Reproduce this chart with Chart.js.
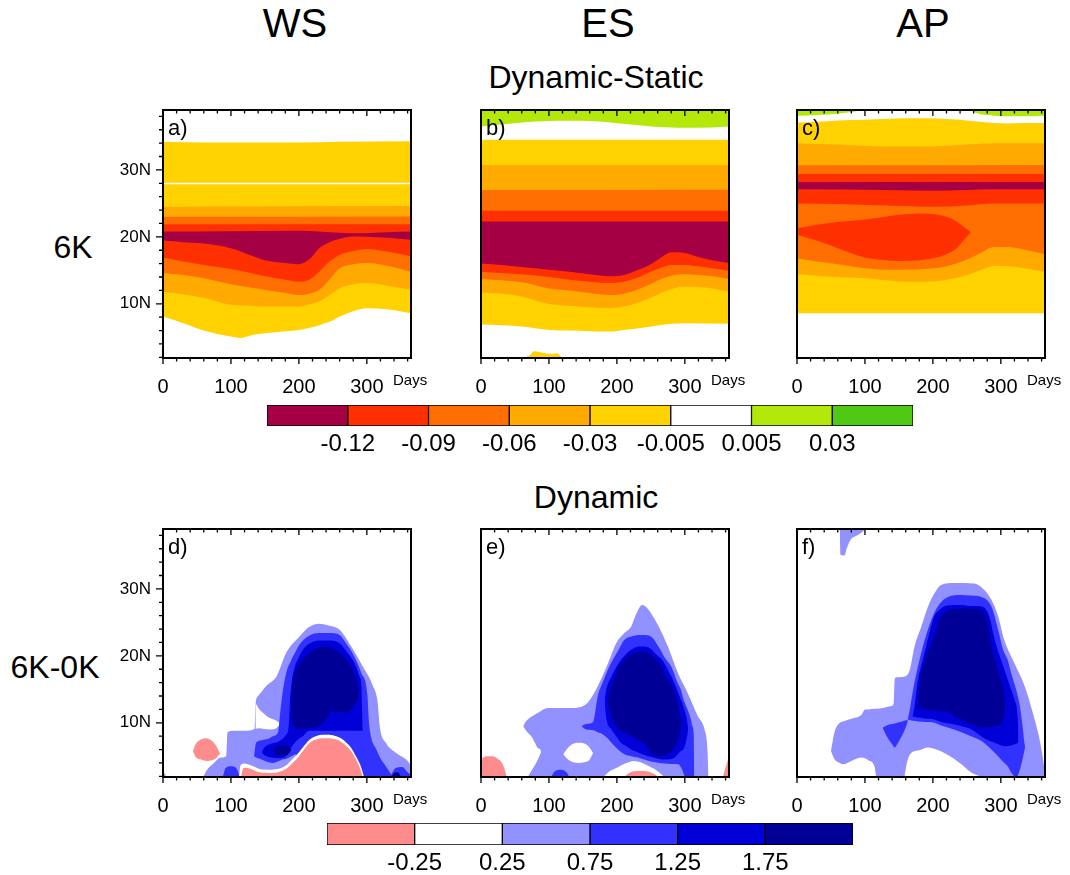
<!DOCTYPE html>
<html>
<head>
<meta charset="utf-8">
<script src="https://cdn.jsdelivr.net/npm/chart.js@4.4.0/dist/chart.umd.min.js"></script>
<style>
  body { margin: 0; width: 1070px; height: 875px; overflow: hidden; background: #fff; font-family: "Liberation Sans", Arial, sans-serif; }
  .t { position: absolute; line-height: 1; white-space: nowrap; transform: translateX(-50%); color: #000; }
  canvas { position: absolute; }
</style>
</head>
<body>

<div class="t" style="left:295px;top:3px;font-size:40px">WS</div>
<div class="t" style="left:608px;top:3px;font-size:40px">ES</div>
<div class="t" style="left:923px;top:3px;font-size:40px">AP</div>
<div class="t" style="left:596px;top:61px;font-size:32px">Dynamic-Static</div>
<div class="t" style="left:73px;top:231px;font-size:32px">6K</div>
<div class="t" style="left:596px;top:481px;font-size:32px">Dynamic</div>
<div class="t" style="left:55px;top:651px;font-size:32px">6K-0K</div>

<canvas id="pa" width="348" height="305"></canvas>
<canvas id="pb" width="348" height="305"></canvas>
<canvas id="pc" width="348" height="305"></canvas>
<canvas id="pd" width="348" height="305"></canvas>
<canvas id="pe" width="348" height="305"></canvas>
<canvas id="pf" width="348" height="305"></canvas>
<canvas id="cb1" width="706" height="71"></canvas>
<canvas id="cb2" width="586" height="72"></canvas>

<script>
const FONT = '"Liberation Sans", Arial, sans-serif';

// axes
const dayTicks = [0, 100, 200, 300];
const latTicks = [10, 20, 30];
const latLabels = ['10N', '20N', '30N'];

// colour bars
const cb1Colors = ['#A60044', '#FF3000', '#FF6E00', '#FFAA00', '#FFD200', '#FFFFFF', '#B4E80A', '#50C814'];
const cb1Labels = ['-0.12', '-0.09', '-0.06', '-0.03', '-0.005', '0.005', '0.03'];
const cb2Colors = ['#FF8C8C', '#FFFFFF', '#9191FF', '#3232FF', '#0000D7', '#000096'];
const cb2Labels = ['-0.25', '0.25', '0.75', '1.25', '1.75'];

const [MAROON, RED, ORANGE, LTORANGE, YELLOW, WHITE, LIME] = cb1Colors;
const [PINK, , LTBLUE, BLUE, MEDBLUE, NAVY] = cb2Colors;

// ---- Dynamic-Static: contour edges as [day, lat], filled downward ----
// WS
const aYellowTop = [[0,34.2],[60,34.1],[200,34.1],[260,34.2],[365,34.3]];
const aGapTop = [[0,28.1],[365,28.1]];
const aGapBot = [[0,27.85],[365,27.85]];
const aLtOrangeTop = [[0,24.5],[365,24.6]];
const aOrangeTop = [[0,23.0],[365,23.05]];
const aRedTop = [[0,21.9],[365,21.9]];
const aMaroonTop = [[0,20.8],[100,20.85],[200,20.9],[230,20.8],[260,20.6],[280,20.55],[330,20.7],[365,20.8]];
const aRed2Top = [[0,19.45],[30,19.2],[60,19.0],[100,18.3],[130,17.2],[150,16.5],[180,16.1],[200,15.9],[215,16.6],[230,18.3],[245,19.2],[260,19.7],[280,20.05],[300,20.0],[330,19.85],[365,19.55]];
const aOrange2Top = [[0,16.9],[30,16.3],[60,15.8],[100,15.2],[130,14.6],[150,14.1],[180,13.6],[200,13.3],[215,13.6],[230,14.8],[245,16.3],[260,17.3],[280,17.9],[300,18.2],[330,17.8],[365,17.1]];
const aLtOrange2Top = [[0,14.6],[30,14.3],[60,13.8],[100,12.9],[130,12.4],[150,12.1],[180,11.6],[200,11.3],[215,11.5],[230,12.1],[245,13.6],[260,15.3],[280,15.9],[300,16.1],[330,15.7],[365,14.8]];
const aYellow2Top = [[0,11.8],[30,11.4],[60,10.9],[100,9.85],[130,9.7],[150,9.6],[180,9.6],[200,9.6],[215,9.9],[230,10.35],[245,11.3],[260,12.3],[280,12.9],[300,13.1],[330,12.7],[365,12.1]];
const aWhiteTop = [[0,8.1],[30,7.1],[60,6.0],[100,5.1],[115,4.9],[130,5.3],[150,5.6],[180,5.9],[200,6.1],[215,6.4],[230,6.8],[245,7.3],[260,8.1],[280,8.9],[300,9.35],[330,9.2],[365,8.6]];

// ES
const bGreenBot = [[0,36.5],[30,36.8],[60,37.1],[100,37.3],[130,37.35],[160,37.3],[190,37.1],[210,36.9],[230,36.7],[250,36.5],[280,36.35],[300,36.3],[340,36.35],[365,36.5]];
const bYellowTop = [[0,34.5],[365,34.5]];
const bLtOrangeTop = [[0,30.75],[365,30.75]];
const bOrangeTop = [[0,27.0],[365,27.05]];
const bRedTop = [[0,23.9],[365,23.9]];
const bMaroonTop = [[0,22.3],[365,22.3]];
const bRed2Top = [[0,16.0],[30,15.8],[60,15.5],[100,15.1],[130,14.8],[160,14.4],[190,14.1],[210,14.3],[230,15.0],[250,15.9],[265,16.9],[280,17.7],[300,17.6],[320,17.0],[340,16.5],[365,16.1]];
const bOrange2Top = [[0,14.8],[30,14.6],[60,14.4],[100,14.0],[130,13.6],[160,13.3],[190,13.1],[210,13.3],[230,13.9],[250,14.8],[265,15.4],[280,15.8],[300,15.8],[320,15.6],[340,15.3],[365,14.9]];
const bLtOrange2Top = [[0,13.7],[30,13.5],[60,13.2],[100,12.3],[130,12.0],[160,11.6],[190,11.3],[210,11.5],[230,12.1],[250,13.0],[265,13.7],[280,14.2],[300,14.4],[320,14.3],[340,14.1],[365,13.7]];
const bYellow2Top = [[0,11.7],[30,11.5],[60,11.1],[100,9.95],[130,9.7],[160,9.5],[190,9.35],[210,9.6],[230,10.1],[250,10.9],[265,11.6],[280,12.2],[300,12.6],[320,12.5],[340,12.3],[365,11.8]];
const bWhiteTop = [[0,6.9],[30,6.8],[60,6.6],[100,6.1],[130,6.0],[160,5.9],[190,5.85],[210,6.1],[230,6.3],[250,6.6],[280,7.0],[300,7.1],[365,7.0]];
const bBlob = [[60,1.9,1.9],[72,2.3,1.9],[78,2.9,1.9],[86,2.8,1.9],[95,2.6,1.9],[105,2.5,1.9],[112,2.6,1.9],[119,1.9,1.9]];

// AP
const cGreenBot = [[0,38.1],[30,38.2],[60,38.4],[90,38.8],[100,38.95],[250,38.95],[270,38.3],[290,38.1],[310,38.0],[330,38.0],[365,38.1]];
const cYellowTop = [[0,37.1],[30,37.2],[60,37.4],[100,37.5],[130,37.6],[160,37.7],[190,37.7],[220,37.6],[250,37.4],[270,37.2],[290,37.0],[310,36.95],[330,37.0],[365,37.0]];
const cLtOrangeTop = [[0,34.0],[60,33.8],[100,33.6],[130,33.5],[190,33.5],[220,33.6],[250,33.8],[290,34.0],[365,34.0]];
const cOrangeTop = [[0,30.7],[365,30.75]];
const cRedTop = [[0,29.4],[365,29.4]];
const cMaroonTop = [[0,28.2],[365,28.2]];
const cRed2Top = [[0,27.1],[130,27.0],[200,26.9],[250,27.0],[290,27.1],[365,27.1]];
const cOrange2Top = [[0,25.0],[60,24.9],[130,24.7],[200,24.5],[250,24.7],[290,25.0],[365,25.0]];
const cLtOrange2Top = [[0,16.8],[30,16.3],[60,15.9],[100,15.3],[130,15.1],[160,15.1],[190,15.2],[220,15.6],[250,16.6],[270,17.6],[290,18.5],[310,18.5],[330,18.2],[365,17.4]];
const cYellow2Top = [[0,14.4],[30,14.2],[60,14.0],[100,13.8],[130,13.5],[160,13.3],[190,13.3],[220,13.6],[250,14.3],[270,15.0],[290,15.7],[310,15.6],[330,15.4],[365,14.8]];
const cWhiteTop = [[0,8.6],[365,8.6]];
const cBlob = [[0,21.3,20.3],[30,21.8,19.4],[60,22.2,18.3],[100,22.6,16.9],[130,23.0,16.5],[150,23.3,16.4],[180,23.5,16.5],[200,23.4,16.8],[220,23.0,17.4],[235,22.3,18.3],[248,21.3,19.8],[255,20.8,20.6]];

// ---- Dynamic: closed regions as [day, upper lat, lower lat] ----
// WS
const dLight = [[59,1.9,1.9],[65,3.0,1.9],[75,4.0,1.9],[85,4.8,1.9],[93,5.0,1.9],[95,8.6,1.9],[105,8.8,1.9],[120,8.8,1.9],[135,9.1,1.9],[136.5,13.0,1.9],[140,14.0,1.9],[152,15.5,1.9],[167,16.9,1.9],[181,20.4,1.9],[201,22.9,1.9],[215,24.3,1.9],[230,24.8,1.9],[245,24.5,1.9],[260,23.9,1.9],[277,21.4,1.9],[294,18.4,1.9],[309,15.5,1.9],[316,13.0,1.9],[319,9.5,1.9],[328,7.0,1.9],[343,5.5,1.9],[358,4.5,1.9],[365,3.6,1.9]];
const dLightCorner = [[0,2.8,1.9],[3,2.3,1.9],[5,1.9,1.9]];
const dNotch = [[136,13.0,9.1],[142,12.0,9.2],[147,11.5,9.1],[157,10.7,9.0],[165,10.4,9.1],[171,10.0,9.6],[173,9.8,9.8]];
const dBlue = [[134,5.0,5.0],[137,7.0,4.8],[145,7.4,4.5],[155,7.6,4.1],[162,8.0,4.0],[169,8.5,4.2],[173,12.0,4.4],[176,14.5,4.5],[181,17.3,4.6],[189,19.4,5.0],[196,20.8,5.3],[201,21.7,1.9],[215,23.0,1.9],[230,23.4,1.9],[245,23.4,1.9],[260,23.1,1.9],[270,21.8,1.9],[279,20.4,1.9],[292,17.4,1.9],[301,14.0,1.9],[302.5,11.0,1.9],[305,8.5,1.9],[314,6.0,1.9],[321,4.5,1.9],[328,3.5,1.9],[338,1.9,1.9]];
const dBlueSmall = [[88,1.9,1.9],[92,3.2,1.9],[100,3.5,1.9],[108,3.2,1.9],[113,1.9,1.9]];
const dBlueCorner = [[334,1.9,1.9],[342,3.2,1.9],[352,3.4,1.9],[360,2.6,1.9],[365,2.2,1.9]];
const dMed = [[145,5.6,5.6],[150,6.4,5.1],[160,6.9,4.8],[170,7.2,4.7],[181,8.2,5.0],[185,9.5,5.6],[187,13.5,6.0],[190,16.5,6.5],[194,18.4,7.0],[200,19.8,7.6],[206,20.9,8.0],[215,21.8,8.8],[230,22.3,8.8],[245,22.3,8.8],[260,21.9,8.8],[272,20.4,8.8],[282,18.9,8.8],[289,17.0,8.8],[292,15.5,8.8],[293,12.0,8.8],[294,8.8,8.8]];
const dNavy = [[189,12.5,12.5],[190,15.0,10.5],[193,17.0,9.5],[196,17.9,9.0],[205,19.3,9.1],[213,20.2,9.2],[225,21.0,9.3],[240,21.4,10.5],[248,21.1,11.7],[260,20.4,11.6],[270,19.4,11.5],[277,18.4,12.0],[284,16.5,13.0],[287,15.5,13.5],[288,14.5,14.0]];
const dNavySmall = [[162,5.8,5.8],[166,6.3,5.3],[172,6.6,5.1],[180,6.6,5.1],[186,6.3,5.5],[189,6.0,6.0]];
const dNavyCorner = [[336,1.9,1.9],[340,2.5,1.9],[346,2.6,1.9],[350,1.9,1.9]];
const dRim = [[112,1.9,1.9],[114,3.6,1.9],[120,3.9,1.9],[130,3.6,1.9],[142,3.1,1.9],[160,3.0,1.9],[181,3.6,1.9],[190,4.5,1.9],[196,5.1,1.9],[201,5.7,1.9],[208,6.6,1.9],[216,7.5,1.9],[225,8.0,1.9],[235,8.2,1.9],[245,8.2,1.9],[255,8.0,1.9],[263,7.6,1.9],[270,7.0,1.9],[278,6.1,1.9],[284,5.0,1.9],[290,3.8,1.9],[296,1.9,1.9]];
const dPink = [[115,1.9,1.9],[118,3.2,1.9],[122,3.3,1.9],[132,3.0,1.9],[142,2.6,1.9],[160,2.5,1.9],[181,3.1,1.9],[190,3.9,1.9],[196,4.5,1.9],[201,5.1,1.9],[208,6.1,1.9],[216,7.0,1.9],[225,7.5,1.9],[235,7.7,1.9],[245,7.7,1.9],[255,7.5,1.9],[263,7.1,1.9],[270,6.5,1.9],[278,5.6,1.9],[284,4.5,1.9],[290,3.2,1.9],[294,1.9,1.9]];
const dPinkSmall = [[44,5.8,5.8],[48,6.8,4.9],[56,7.5,4.5],[64,7.7,4.3],[72,7.3,4.4],[78,6.6,4.7],[83,5.6,5.3],[84,5.4,5.4]];

// ES
const eLight = [[62,9.5,9.5],[66,10.2,8.9],[70,10.6,8.4],[74,10.9,8.0],[79,11.2,7.1],[84,11.5,6.2],[89,11.8,5.5],[90,11.9,1.9],[103,12.2,1.9],[125,12.2,1.9],[143,12.3,1.9],[157,13.0,1.9],[172,15.5,1.9],[187,18.9,1.9],[199,21.9,1.9],[211,23.4,1.9],[221,24.4,1.9],[227,25.9,1.9],[232,27.0,1.9],[237,27.6,1.9],[243,27.3,1.9],[250,26.4,1.9],[263,24.1,1.9],[275,21.4,1.9],[290,17.4,1.9],[304,14.5,1.9],[319,11.0,1.9],[329,9.0,1.9],[333,6.5,1.9],[335,1.9,1.9]];
const eLightFoot = [[69,1.9,1.9],[74,2.8,1.9],[79,3.6,1.9],[84,4.6,1.9],[89,5.8,1.9],[92,6.6,1.9],[97,6.6,1.9]];
const eBlue = [[148,9.5,9.5],[155,9.8,9.0],[165,10.1,8.9],[172,14.0,8.6],[179,16.0,8.3],[187,18.0,7.6],[194,19.4,6.8],[203,21.0,5.9],[211,22.4,5.3],[221,22.9,5.0],[231,23.1,4.8],[240,23.1,4.5],[250,22.9,4.2],[263,21.1,4.0],[270,19.8,3.9],[280,18.4,3.85],[290,15.8,3.8],[294,15.0,3.4],[298,13.5,2.5],[300,13.0,1.9],[309,10.5,1.9],[311,9.5,1.9],[313,8.5,1.9],[314,1.9,1.9]];
const eBlueSmall = [[103,1.9,1.9],[108,2.7,1.9],[118,3.0,1.9],[126,2.6,1.9],[130,1.9,1.9]];
const eMed = [[182,13.5,13.5],[184,14.8,11.0],[192,16.9,9.0],[199,18.3,8.0],[206,19.4,7.0],[214,20.3,6.5],[221,20.9,6.0],[233,21.4,5.5],[246,21.3,5.0],[258,20.2,4.7],[268,19.2,4.5],[280,16.9,4.6],[285,15.8,4.8],[292,14.0,5.6],[300,11.8,6.5],[303,10.5,7.8],[305,9.0,9.0]];
const eNavy = [[187,13.5,13.5],[189,14.6,12.0],[192,15.5,11.0],[198,17.0,9.7],[204,18.4,8.9],[212,19.5,8.5],[221,20.2,8.0],[233,20.6,7.4],[243,20.5,6.6],[250,20.2,5.5],[263,18.7,5.0],[270,17.4,5.2],[277,16.2,5.5],[285,14.5,6.4],[290,12.6,7.6],[295,9.5,9.5]];
const eHole = [[121,5.3,5.3],[126,6.0,4.7],[133,6.7,4.2],[143,7.0,4.0],[152,6.9,4.1],[159,6.4,4.4],[165,5.5,5.5]];
const eWhiteBottom = [[180,1.9,1.9],[190,2.8,1.9],[200,3.3,1.9],[212,3.9,1.9],[225,4.3,1.9],[235,4.1,1.9],[245,3.6,1.9],[258,2.9,1.9],[270,1.9,1.9]];
const ePinkBottom = [[211,1.9,1.9],[218,2.5,1.9],[228,2.8,1.9],[240,2.8,1.9],[252,2.5,1.9],[262,1.9,1.9]];
const ePinkLeft = [[0,4.6,1.9],[8,5.0,1.9],[17,5.0,1.9],[25,4.6,1.9],[31,4.0,1.9],[35,3.0,1.9],[38,1.9,1.9]];
const ePinkRight = [[356,1.9,1.9],[359,3.0,1.9],[362,4.0,1.9],[365,4.8,1.9]];

// AP
const fLight = [[50,5.8,5.8],[55,8.5,4.6],[63,10.0,4.0],[68,10.2,3.8],[80,10.6,4.3],[95,11.2,4.8],[100,12.0,4.7],[105,12.0,4.4],[114,12.1,3.5],[117,12.1,1.9],[139,12.5,1.9],[142.5,13.0,1.9],[144,16.7,1.9],[150,16.8,1.9],[158,16.9,1.9],[166,17.9,1.9],[173,21.4,1.9],[183,24.4,1.9],[193,27.4,1.9],[202,29.3,1.9],[212,30.6,1.9],[232,30.9,1.9],[261,30.8,1.9],[276,29.8,1.9],[286,28.4,1.9],[296,25.9,1.9],[305,22.4,1.9],[320,18.9,1.9],[335,15.5,1.9],[347,11.5,1.9],[357,7.5,1.9],[363,4.0,1.9],[365,2.5,1.9]];
const fTop = [[63,38.95,38.0],[64,38.95,35.1],[70,38.95,35.0],[73,38.95,36.0],[80,38.95,37.5],[87,38.95,37.9],[99,38.95,38.8],[100,38.95,38.95]];
const fWhiteBottom = [[158,1.9,1.9],[163,4.5,1.9],[168,5.5,1.9],[180,5.9,1.9],[193,6.3,1.9],[205,6.0,1.9],[217,5.5,1.9],[230,4.7,1.9],[242,3.8,1.9],[256,2.6,1.9],[271,1.9,1.9]];
const fBlue = [[163,10.5,10.5],[166,12.0,10.4],[171,15.0,10.3],[178,18.4,10.2],[188,22.4,10.1],[202,26.4,10.0],[212,28.0,9.6],[222,28.8,9.3],[242,29.1,8.6],[256,29.0,8.0],[271,28.8,7.3],[286,27.4,6.0],[296,23.9,5.0],[303,21.0,4.2],[310,19.4,3.5],[315,17.5,2.6],[320,15.8,2.0],[323,14.8,1.9],[328,12.5,3.0],[332,9.5,4.6],[335,6.8,6.0],[336,6.4,6.4]];
const fBlueWedge = [[126,9.3,9.3],[130,9.5,8.4],[135,9.7,7.5],[140,9.8,6.8],[144,9.9,6.3],[148,10.0,6.9],[152,10.1,7.6],[158,10.3,8.8],[163,10.5,10.2]];
const fMed = [[170,10.9,10.9],[173,12.5,10.9],[176,15.0,10.8],[178,16.4,10.8],[184,19.0,10.7],[190,21.4,10.6],[202,25.9,10.5],[210,26.9,10.2],[217,27.4,10.0],[232,27.6,9.75],[242,27.6,9.5],[251,27.5,9.25],[260,27.45,8.8],[271,27.4,8.0],[283,25.9,7.3],[291,22.4,7.0],[305,18.0,6.5],[315,15.0,6.6],[320,13.5,6.8],[325,10.5,7.0],[326,7.5,7.5]];
const fNavy = [[178,12.5,12.5],[179,13.8,12.4],[181,16.4,12.4],[185,18.2,12.2],[190,19.9,12.0],[202,22.9,11.9],[212,25.9,11.7],[217,26.4,11.7],[227,26.9,11.3],[237,27.0,10.7],[246,27.1,10.3],[251,27.1,10.0],[260,27.0,9.7],[271,26.9,9.3],[281,24.9,9.3],[286,21.4,9.4],[291,19.6,9.5],[296,17.9,9.6],[300,16.3,9.8],[305,14.5,11.0],[306,12.5,12.0]];

Chart.defaults.font.family = FONT;

function lineSet(pts, color, fill, order) {
  return {
    data: pts.map(p => ({ x: p[0], y: p[1] })),
    backgroundColor: color, borderColor: 'rgba(0,0,0,0)', borderWidth: 0,
    pointRadius: 0, fill, order, cubicInterpolationMode: 'monotone'
  };
}

// bands fill to the bottom (or top) of the plot, later ones paint over earlier ones;
// shapes fill between their upper and lower edge
function buildSets(bands, shapes) {
  const sets = [];
  let k = 0;
  bands.forEach(([pts, color, mode]) => {
    sets.push(lineSet(pts, color, mode || 'start', 1000 - k));
    k++;
  });
  shapes.forEach(([pts, color]) => {
    sets.push(lineSet(pts.map(p => [p[0], p[2]]), 'rgba(0,0,0,0)', false, 1000 - k));
    sets.push(lineSet(pts.map(p => [p[0], p[1]]), color, '-1', 1000 - k));
    k++;
  });
  return sets;
}

const panelDecor = {
  id: 'panelDecor',
  afterDraw(chart, args, opts) {
    const { ctx, chartArea: a, scales: { x, y } } = chart;
    ctx.save();
    ctx.strokeStyle = '#000';
    ctx.lineWidth = 1.3;
    ctx.beginPath();
    for (let d = 0; d <= 360; d += 20) {
      const px = x.getPixelForValue(d);
      const len = d % 100 === 0 ? 6 : 3.5;
      ctx.moveTo(px, a.bottom); ctx.lineTo(px, a.bottom + len);
      ctx.moveTo(px, a.top); ctx.lineTo(px, a.top + len);
    }
    if (opts.yLabels) {
      for (let v = 2; v <= 38; v += 2) {
        const py = y.getPixelForValue(v);
        const len = v % 10 === 0 ? 7 : 4;
        ctx.moveTo(a.left, py); ctx.lineTo(a.left - len, py);
      }
    }
    ctx.stroke();
    ctx.lineWidth = 2;
    ctx.strokeRect(a.left, a.top, a.width, a.height);
    ctx.fillStyle = '#000';
    ctx.textBaseline = 'alphabetic';
    ctx.font = '22px ' + FONT;
    ctx.fillText(opts.letter, a.left + 5, a.top + 25);
    ctx.font = '15px ' + FONT;
    ctx.fillText('Days', a.right - 18, a.bottom + 27);
    ctx.restore();
  }
};

function panel(id, left, top, letter, yLabels, bands, shapes) {
  const cv = document.getElementById(id);
  cv.style.left = (left - 70) + 'px';
  cv.style.top = (top - 12) + 'px';
  new Chart(cv, {
    type: 'line',
    data: { datasets: buildSets(bands, shapes) },
    options: {
      responsive: false, animation: false, events: [],
      layout: { padding: { top: 12, right: 30, left: 0, bottom: 0 } },
      plugins: { legend: { display: false }, tooltip: { enabled: false }, panelDecor: { letter, yLabels } },
      scales: {
        x: {
          type: 'linear', min: 0, max: 365,
          afterBuildTicks: s => { s.ticks = dayTicks.map(v => ({ value: v })); },
          afterFit: s => { s.height = 45; s.paddingLeft = 0; s.paddingRight = 0; },
          grid: { display: false, drawTicks: false }, border: { display: false },
          ticks: { color: '#000', font: { size: 20 }, padding: 17, maxRotation: 0, autoSkip: false }
        },
        y: {
          type: 'linear', min: 1.9, max: 38.95,
          afterBuildTicks: s => { s.ticks = latTicks.map(v => ({ value: v })); },
          afterFit: s => { s.width = 70; s.paddingTop = 0; s.paddingBottom = 0; },
          grid: { display: false, drawTicks: false }, border: { display: false },
          ticks: { display: yLabels, color: '#000', font: { size: 17 }, padding: 12,
                   callback: v => latLabels[latTicks.indexOf(v)] }
        }
      }
    },
    plugins: [panelDecor]
  });
}

function colorbar(id, left, top, colors, labels) {
  const cv = document.getElementById(id);
  cv.style.left = (left - 30) + 'px';
  cv.style.top = (top - 10) + 'px';
  new Chart(cv, {
    type: 'bar',
    data: {
      labels: [''],
      datasets: colors.map(c => ({ data: [1], backgroundColor: c, borderColor: '#000', borderWidth: 1,
        borderSkipped: false, barPercentage: 1, categoryPercentage: 1 }))
    },
    options: {
      indexAxis: 'y', responsive: false, animation: false, events: [],
      layout: { padding: { left: 30, right: 30, top: 10, bottom: 0 } },
      plugins: { legend: { display: false }, tooltip: { enabled: false } },
      scales: {
        x: {
          stacked: true, min: 0, max: colors.length,
          afterBuildTicks: s => { s.ticks = labels.map((l, i) => ({ value: i + 1 })); },
          afterFit: s => { s.height = 40; s.paddingLeft = 0; s.paddingRight = 0; },
          grid: { display: false, drawTicks: false }, border: { display: false },
          ticks: { color: '#000', font: { size: 24 }, padding: 4, maxRotation: 0, autoSkip: false,
                   callback: (v, i) => labels[i] }
        },
        y: { stacked: true, display: false }
      }
    }
  });
}

panel('pa', 163, 110, 'a)', true, [
  [aYellowTop, YELLOW], [aGapTop, WHITE], [aGapBot, YELLOW], [aLtOrangeTop, LTORANGE],
  [aOrangeTop, ORANGE], [aRedTop, RED], [aMaroonTop, MAROON], [aRed2Top, RED],
  [aOrange2Top, ORANGE], [aLtOrange2Top, LTORANGE], [aYellow2Top, YELLOW], [aWhiteTop, WHITE]
], []);

panel('pb', 481, 110, 'b)', false, [
  [bGreenBot, LIME, 'end'], [bYellowTop, YELLOW], [bLtOrangeTop, LTORANGE], [bOrangeTop, ORANGE],
  [bRedTop, RED], [bMaroonTop, MAROON], [bRed2Top, RED], [bOrange2Top, ORANGE],
  [bLtOrange2Top, LTORANGE], [bYellow2Top, YELLOW], [bWhiteTop, WHITE]
], [[bBlob, YELLOW]]);

panel('pc', 797, 110, 'c)', false, [
  [cGreenBot, LIME, 'end'], [cYellowTop, YELLOW], [cLtOrangeTop, LTORANGE], [cOrangeTop, ORANGE],
  [cRedTop, RED], [cMaroonTop, MAROON], [cRed2Top, RED], [cOrange2Top, ORANGE],
  [cLtOrange2Top, LTORANGE], [cYellow2Top, YELLOW], [cWhiteTop, WHITE]
], [[cBlob, RED]]);

panel('pd', 163, 529, 'd)', true, [], [
  [dLight, LTBLUE], [dLightCorner, LTBLUE], [dNotch, WHITE], [dBlue, BLUE], [dBlueSmall, BLUE],
  [dBlueCorner, BLUE], [dMed, MEDBLUE], [dNavy, NAVY], [dNavySmall, NAVY], [dNavyCorner, NAVY],
  [dRim, WHITE], [dPink, PINK], [dPinkSmall, PINK]
]);

panel('pe', 481, 529, 'e)', false, [], [
  [eLight, LTBLUE], [eLightFoot, LTBLUE], [eBlue, BLUE], [eBlueSmall, BLUE], [eMed, MEDBLUE],
  [eNavy, NAVY], [eHole, WHITE], [eWhiteBottom, WHITE], [ePinkBottom, PINK], [ePinkLeft, PINK],
  [ePinkRight, PINK]
]);

panel('pf', 797, 529, 'f)', false, [], [
  [fLight, LTBLUE], [fTop, LTBLUE], [fWhiteBottom, WHITE], [fBlue, BLUE], [fBlueWedge, BLUE],
  [fMed, MEDBLUE], [fNavy, NAVY]
]);

colorbar('cb1', 267, 405, cb1Colors, cb1Labels);
colorbar('cb2', 327, 823, cb2Colors, cb2Labels);
</script>

</body>
</html>
